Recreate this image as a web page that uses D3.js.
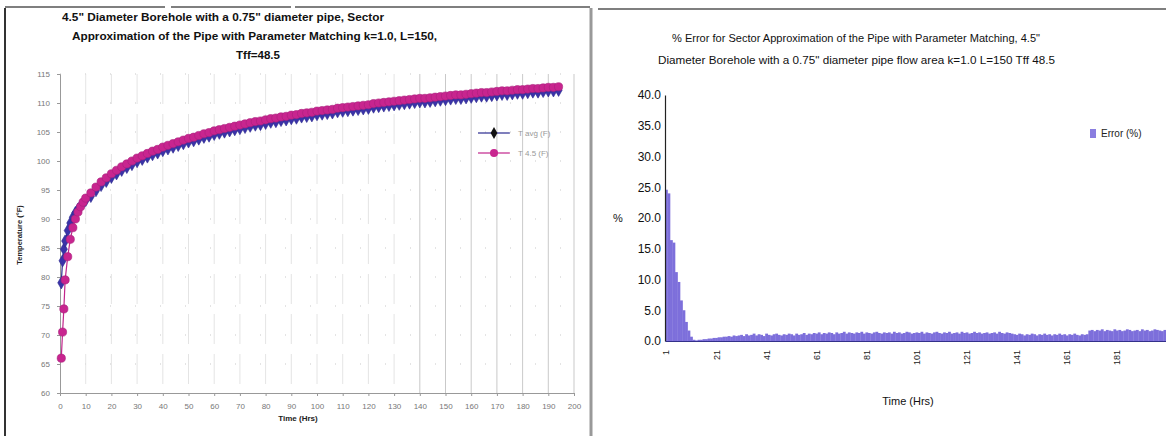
<!DOCTYPE html>
<html>
<head>
<meta charset="utf-8">
<script src="https://cdn.jsdelivr.net/npm/d3@7/dist/d3.min.js"></script>
<style>
  html, body { margin: 0; padding: 0; background: #fff; }
  svg { display: block; font-family: "Liberation Sans", Arial, sans-serif; }
</style>
</head>
<body>
<svg id="chart" width="1166" height="436"></svg>
<script>
// ---- Borehole temperature vs time (left panel) ----
const tempTimes = [0.5, 1, 1.5, 2, 3, 4, 5, 6, 7, 8, 9, 10,
  12, 14, 16, 18, 20, 22, 24, 26, 28, 30, 32, 34, 36, 38, 40, 42, 44, 46, 48, 50,
  52, 54, 56, 58, 60, 62, 64, 66, 68, 70, 72, 74, 76, 78, 80, 82, 84, 86, 88, 90,
  92, 94, 96, 98, 100, 102, 104, 106, 108, 110, 112, 114, 116, 118, 120, 122, 124, 126,
  128, 130, 132, 134, 136, 138, 140, 142, 144, 146, 148, 150, 152, 154, 156, 158, 160,
  162, 164, 166, 168, 170, 172, 174, 176, 178, 180, 182, 184, 186, 188, 190, 192, 194];

const tempAvg = [79.0, 82.8, 84.8, 86.2, 88.0, 89.3, 90.3, 91.1, 91.7, 92.3, 92.8, 93.2,
  93.9, 94.9, 95.8, 96.5, 97.2, 97.8, 98.4, 98.9, 99.4, 99.9, 100.3, 100.7, 101.1,
  101.4, 101.8, 102.1, 102.4, 102.7, 103.0, 103.3, 103.5, 103.8, 104.1, 104.3, 104.6,
  104.8, 105.0, 105.2, 105.4, 105.6, 105.8, 106.0, 106.2, 106.3, 106.5, 106.7, 106.8,
  107.0, 107.1, 107.3, 107.4, 107.6, 107.7, 107.8, 108.0, 108.1, 108.2, 108.3, 108.5,
  108.6, 108.7, 108.8, 108.9, 109.0, 109.1, 109.3, 109.4, 109.5, 109.6, 109.7, 109.8,
  109.9, 110.0, 110.1, 110.2, 110.2, 110.3, 110.4, 110.5, 110.6, 110.7, 110.8, 110.8,
  110.9, 111.0, 111.1, 111.2, 111.2, 111.3, 111.4, 111.5, 111.5, 111.6, 111.7, 111.7,
  111.8, 111.9, 111.9, 112.0, 112.1, 112.1, 112.2];

const temp45 = [66.0, 70.5, 74.5, 79.5, 83.5, 86.5, 88.5, 90.0, 91.2, 92.1, 92.9, 93.6,
  94.5, 95.5, 96.4, 97.1, 97.8, 98.4, 99.0, 99.5, 100.0, 100.5, 100.9, 101.3, 101.7,
  102.0, 102.4, 102.7, 103.0, 103.3, 103.6, 103.9, 104.1, 104.4, 104.7, 104.9, 105.2,
  105.4, 105.6, 105.8, 106.0, 106.2, 106.4, 106.6, 106.8, 106.9, 107.1, 107.3, 107.4,
  107.6, 107.7, 107.9, 108.0, 108.2, 108.3, 108.4, 108.6, 108.7, 108.8, 108.9, 109.1,
  109.2, 109.3, 109.4, 109.5, 109.6, 109.7, 109.9, 110.0, 110.1, 110.2, 110.3, 110.4,
  110.5, 110.6, 110.7, 110.8, 110.8, 110.9, 111.0, 111.1, 111.2, 111.3, 111.4, 111.4,
  111.5, 111.6, 111.7, 111.8, 111.8, 111.9, 112.0, 112.1, 112.1, 112.2, 112.3, 112.3,
  112.4, 112.5, 112.5, 112.6, 112.7, 112.7, 112.8];

const tempSeriesNames = ["T avg (F)", "T 4.5 (F)"];
const tempXTicks = d3.range(0, 201, 10);
const tempYTicks = d3.range(60, 116, 5);

// ---- Percent error per hour (right panel) ----
const errorHours = d3.range(1, 201);
const errorPct = [
  24.6, 24.0, 16.4, 16.0, 11.2, 9.6, 6.6, 5.0, 3.1, 1.7,
  0.7, 0.2, 0.1, 0.2, 0.2, 0.3, 0.3, 0.4, 0.4, 0.5,
  0.5, 0.6, 0.6, 0.7, 0.7, 0.8, 0.7, 0.9, 0.8, 0.9,
  1.0, 0.8, 1.1, 0.9, 1.0, 1.2, 0.9, 1.1, 1.0, 0.8,
  1.2, 1.0, 0.9, 1.1, 1.2, 1.0, 0.9, 1.1, 1.0, 1.2,
  1.1, 0.9, 1.2, 1.0, 1.1, 1.3, 1.0, 1.2, 1.1, 1.3,
  1.2, 1.4, 1.1, 1.3, 1.2, 1.4, 1.3, 1.1, 1.4, 1.2,
  1.3, 1.5, 1.2, 1.4, 1.3, 1.2, 1.4, 1.3, 1.5, 1.2,
  1.4, 1.3, 1.2, 1.4, 1.5, 1.3, 1.2, 1.4, 1.3, 1.4,
  1.2, 1.5, 1.3, 1.4, 1.2, 1.3, 1.5, 1.4, 1.2, 1.3,
  1.4, 1.3, 1.5, 1.2, 1.4, 1.3, 1.2, 1.4, 1.5, 1.3,
  1.2, 1.4, 1.3, 1.5, 1.2, 1.3, 1.4, 1.2, 1.5, 1.3,
  1.4, 1.2, 1.3, 1.5, 1.3, 1.4, 1.2, 1.3, 1.4, 1.2,
  1.3, 1.4, 1.2, 1.5, 1.3, 1.2, 1.4, 1.3, 1.2, 1.1,
  1.0, 1.2, 1.1, 0.9, 1.1, 1.0, 1.2, 1.1, 0.9, 1.1,
  1.0, 1.2, 1.0, 1.1, 0.9, 1.1, 1.0, 1.2, 1.0, 1.1,
  0.9, 1.1, 1.0, 1.2, 1.0, 0.9, 1.1, 1.0, 1.1, 1.7,
  1.8, 1.6, 1.8, 1.7, 1.9, 1.6, 1.8, 1.7, 1.6, 1.9,
  1.7, 1.8, 1.6, 1.7, 1.9, 1.8, 1.6, 1.7, 1.8, 1.6,
  1.9, 1.7, 1.8, 1.6, 1.7, 1.9, 1.8, 1.7, 1.6, 1.8
];
const errorYTicks = d3.range(0, 41, 5);
const errorXLabels = d3.range(1, 201, 20);

const svg = d3.select("#chart");

// panel frames
svg.append("line").attr("x1", 5).attr("y1", 8).attr("x2", 5).attr("y2", 436)
  .attr("stroke", "#333").attr("stroke-width", 2);
svg.append("line").attr("x1", 5).attr("y1", 7).attr("x2", 590).attr("y2", 7)
  .attr("stroke", "#555").attr("stroke-width", 1.5).attr("stroke-dasharray", "160,6,120,4,300");
svg.append("line").attr("x1", 591).attr("y1", 8).attr("x2", 591).attr("y2", 436)
  .attr("stroke", "#999").attr("stroke-width", 3);
svg.append("line").attr("x1", 598).attr("y1", 9).attr("x2", 1166).attr("y2", 9)
  .attr("stroke", "#555").attr("stroke-width", 1.5);

// ================= left panel =================
const L = { left: 60, right: 574, top: 74, bottom: 393 };
const xT = d3.scaleLinear().domain([0, 200]).range([L.left, L.right]);
const yT = d3.scaleLinear().domain([60, 115]).range([L.bottom, L.top]);

const gL = svg.append("g");

// gridlines
gL.append("g").selectAll("line").data(tempYTicks.filter(d => d > 60)).join("line")
  .attr("x1", L.left).attr("x2", L.right)
  .attr("y1", d => yT(d)).attr("y2", d => yT(d))
  .attr("stroke", "#bbb").attr("stroke-width", 0.8).attr("stroke-dasharray", "1,24");
gL.append("g").selectAll("line").data(tempXTicks.filter(d => d > 0)).join("line")
  .attr("x1", d => xT(d)).attr("x2", d => xT(d))
  .attr("y1", L.top).attr("y2", L.bottom)
  .attr("stroke", d => d >= 140 ? "#bbb" : "#ddd").attr("stroke-width", 0.8)
  .attr("stroke-dasharray", d => d >= 140 ? null : "30,10");

// axes
const axL = gL.append("g").attr("transform", `translate(${L.left},0)`)
  .call(d3.axisLeft(yT).tickValues(tempYTicks).tickSize(3).tickFormat(d3.format("d")));
const axB = gL.append("g").attr("transform", `translate(0,${L.bottom})`)
  .call(d3.axisBottom(xT).tickValues(tempXTicks).tickSize(3).tickFormat(d3.format("d")));
[axL, axB].forEach(a => {
  a.select(".domain").attr("stroke", "#999");
  a.selectAll(".tick line").attr("stroke", "#999");
  a.selectAll("text").attr("fill", "#777").attr("font-size", 8)
    .attr("font-family", "Liberation Sans, Arial, sans-serif");
});
axL.selectAll("text").attr("x", -10);
axB.selectAll("text").attr("y", 10);

// series lines and markers
const avgPts = tempTimes.map((t, i) => [t, tempAvg[i]]);
const p45Pts = tempTimes.map((t, i) => [t, temp45[i]]);
const lineGen = d3.line().x(d => xT(d[0])).y(d => yT(d[1]));

gL.append("path").datum(avgPts).attr("d", lineGen)
  .attr("fill", "none").attr("stroke", "#2b2a8f").attr("stroke-width", 1.2);
gL.append("g").selectAll("path").data(avgPts).join("path")
  .attr("transform", d => `translate(${xT(d[0])},${yT(d[1])})`)
  .attr("d", d3.symbol(d3.symbolDiamond, 44))
  .attr("fill", "#3a32a8").attr("stroke", "#2b2a8f").attr("stroke-width", 0.6);

gL.append("path").datum(p45Pts).attr("d", lineGen)
  .attr("fill", "none").attr("stroke", "#c2268c").attr("stroke-width", 1.2);
gL.append("g").selectAll("circle").data(p45Pts).join("circle")
  .attr("cx", d => xT(d[0])).attr("cy", d => yT(d[1])).attr("r", 4.1)
  .attr("fill", "#c8258f").attr("stroke", "#a8207c").attr("stroke-width", 0.6);

// legend
const legL = gL.append("g").attr("transform", "translate(478,133)");
legL.append("line").attr("x1", 0).attr("x2", 32).attr("y1", 0).attr("y2", 0)
  .attr("stroke", "#2b2a8f").attr("stroke-width", 1.2);
legL.append("path").attr("transform", "translate(16,0)").attr("d", d3.symbol(d3.symbolDiamond, 40))
  .attr("fill", "#111");
legL.append("line").attr("x1", 0).attr("x2", 32).attr("y1", 20).attr("y2", 20)
  .attr("stroke", "#c2268c").attr("stroke-width", 1.2);
legL.append("circle").attr("cx", 16).attr("cy", 20).attr("r", 4).attr("fill", "#c8258f");
legL.selectAll("text").data(tempSeriesNames).join("text")
  .attr("x", 40).attr("y", (d, i) => i * 20 + 3).text(d => d)
  .attr("font-size", 8).attr("fill", "#999");

// titles
const titleL = ["4.5\" Diameter Borehole with a 0.75\" diameter pipe, Sector",
  "Approximation of the Pipe with Parameter Matching  k=1.0, L=150,",
  "Tff=48.5"];
const titleLPos = [[62, 322], [72, 365], [236, 44]];
gL.selectAll("text.title").data(titleL).join("text").attr("class", "title")
  .attr("x", (d, i) => titleLPos[i][0]).attr("y", (d, i) => 21 + i * 19)
  .attr("textLength", (d, i) => titleLPos[i][1]).attr("lengthAdjust", "spacingAndGlyphs")
  .attr("font-size", 11).attr("font-weight", "bold")
  .attr("fill", "#111").text(d => d);

gL.append("text").attr("transform", `translate(22,235) rotate(-90)`)
  .attr("text-anchor", "middle").attr("font-size", 7.5).attr("font-weight", "bold")
  .attr("fill", "#222").text("Temperature (°F)");
gL.append("text").attr("x", 298).attr("y", 421).attr("text-anchor", "middle")
  .attr("font-size", 8).attr("font-weight", "bold").attr("fill", "#222").text("Time (Hrs)");

// ================= right panel =================
const R = { left: 665, right: 1166, top: 95, bottom: 341 };
const xE = d3.scaleBand().domain(errorHours).range([R.left, R.right]).padding(0);
const yE = d3.scaleLinear().domain([0, 40]).range([R.bottom, R.top]);

const gR = svg.append("g");

gR.append("g").selectAll("rect").data(errorHours).join("rect")
  .attr("x", d => xE(d)).attr("width", xE.bandwidth() + 0.3)
  .attr("y", (d, i) => yE(errorPct[i]))
  .attr("height", (d, i) => R.bottom - yE(errorPct[i]))
  .attr("fill", "#7d6fdb");

const axLE = gR.append("g").attr("transform", `translate(${R.left},0)`)
  .call(d3.axisLeft(yE).tickValues(errorYTicks).tickSize(0).tickFormat(d3.format(".1f")));
axLE.select(".domain").attr("stroke", "#222").attr("stroke-width", 1.2);
axLE.selectAll("text").attr("x", -4).attr("font-size", 12).attr("fill", "#111")
  .attr("font-family", "Liberation Sans, Arial, sans-serif");

const axBE = gR.append("g").attr("transform", `translate(0,${R.bottom})`)
  .call(d3.axisBottom(xE).tickValues(errorXLabels).tickSize(0));
axBE.select(".domain").attr("stroke", "#33308a").attr("stroke-width", 1.2);
axBE.selectAll("text")
  .attr("transform", "rotate(-90)").attr("text-anchor", "end")
  .attr("x", -9).attr("y", 0).attr("dy", "0.35em")
  .attr("font-size", 9).attr("fill", "#222")
  .attr("font-family", "Liberation Sans, Arial, sans-serif");

gR.append("text").attr("x", 618).attr("y", 222).attr("font-size", 11)
  .attr("text-anchor", "middle").attr("fill", "#111").text("%");
gR.append("text").attr("x", 908).attr("y", 405).attr("font-size", 11)
  .attr("text-anchor", "middle").attr("fill", "#111").text("Time (Hrs)");

const titleR = ["% Error for Sector Approximation of the Pipe with Parameter Matching, 4.5\"",
  "Diameter Borehole with a 0.75\" diameter pipe flow area  k=1.0 L=150 Tff 48.5"];
const titleRPos = [[672, 368], [658, 397]];
gR.selectAll("text.title").data(titleR).join("text").attr("class", "title")
  .attr("x", (d, i) => titleRPos[i][0]).attr("y", (d, i) => 42 + i * 22)
  .attr("textLength", (d, i) => titleRPos[i][1]).attr("lengthAdjust", "spacingAndGlyphs")
  .attr("font-size", 11).attr("fill", "#111").text(d => d);

// legend
gR.append("rect").attr("x", 1090).attr("y", 129).attr("width", 6).attr("height", 9)
  .attr("fill", "#8a7ee0");
gR.append("text").attr("x", 1101).attr("y", 137).attr("font-size", 10).attr("fill", "#222")
  .text("Error (%)");
</script>
</body>
</html>
